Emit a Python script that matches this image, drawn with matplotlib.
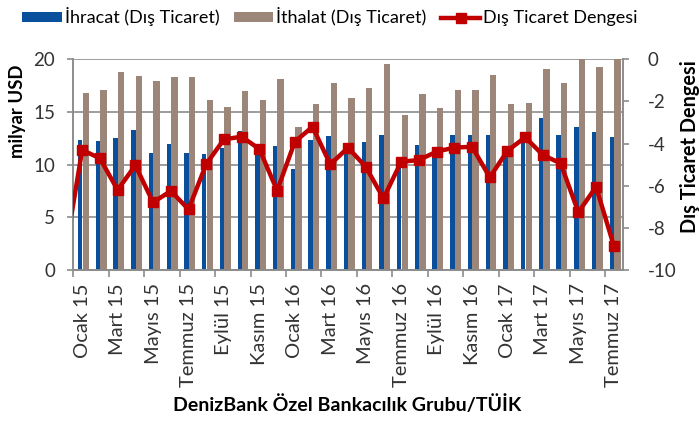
import numpy as np
import matplotlib.pyplot as plt
from matplotlib.ticker import FixedLocator

plt.rcParams['font.family'] = ['Lato', 'DejaVu Sans']
plt.rcParams['axes.unicode_minus'] = False

# aylar: Ocak 15 - Temmuz 17
aylar = ['Ocak', 'Şubat', 'Mart', 'Nisan', 'Mayıs', 'Haziran',
         'Temmuz', 'Ağustos', 'Eylül', 'Ekim', 'Kasım', 'Aralık']
donem = [f'{aylar[i % 12]} {15 + i // 12}' for i in range(31)]

ihracat = [12.35, 12.25, 12.55, 13.3, 11.1, 12.0, 11.15, 11.0, 11.55, 13.2,
           11.8, 11.8, 9.55, 12.35, 12.75, 11.95, 12.15, 12.8, 9.9, 11.85,
           11.05, 12.8, 12.8, 12.85, 11.3, 12.2, 14.45, 12.8, 13.6, 13.1, 12.6]
ithalat = [16.8, 17.05, 18.8, 18.45, 17.95, 18.35, 18.3, 16.1, 15.5, 16.95,
           16.1, 18.15, 13.6, 15.75, 17.8, 16.3, 17.25, 19.6, 14.75, 16.7,
           15.4, 17.05, 17.05, 18.55, 15.75, 15.9, 19.1, 17.8, 20.9, 19.3, 21.5]
# Aralık 14 değeri grafiğin solunda kesik görünüyor
denge_onceki = -9.4
denge = [-4.30, -4.70, -6.20, -5.03, -6.79, -6.25, -7.12, -4.97, -3.80, -3.67,
         -4.26, -6.23, -3.91, -3.20, -4.99, -4.19, -5.10, -6.60, -4.86, -4.78,
         -4.38, -4.19, -4.15, -5.60, -4.34, -3.70, -4.54, -4.94, -7.26, -6.05, -8.85]

mavi = '#0A4F9C'
kahve = '#9C867A'
kirmizi = '#C00000'
gri = '#8C8C8C'
yazi = '#333333'

fig = plt.figure(figsize=(6.99, 4.21), dpi=100)
ax = fig.add_axes([0.1049, 0.3587, 0.7859, 0.5003])
ax2 = ax.twinx()

x = np.arange(len(donem))
ax.bar(x - 0.11, ihracat, width=0.25, color=mavi, zorder=2, label='İhracat (Dış Ticaret)')
ax.bar(x + 0.2, ithalat, width=0.36, color=kahve, zorder=2, label='İthalat (Dış Ticaret)')

xl = np.concatenate([[-1], x])
yl = [denge_onceki] + denge
ax2.plot(xl, yl, color=kirmizi, lw=3.2, marker='s', ms=6.5, zorder=3,
         label='Dış Ticaret Dengesi')

ax.set_xlim(-0.5, len(donem) - 0.5)
ax.set_ylim(0, 20)
ax.set_yticks([0, 5, 10, 15, 20])
ax.yaxis.grid(True, color=gri, lw=1.2, zorder=0)
ax.set_axisbelow(True)
ax2.set_ylim(-10, 0)
ax2.set_yticks([0, -2, -4, -6, -8, -10])

ax.set_xticks(x[::2])
ax.set_xticklabels(donem[::2], rotation=90, fontsize=14.5, color=yazi)
ax.xaxis.set_minor_locator(FixedLocator(np.arange(-0.5, len(donem) - 1, 2)))
ax.tick_params(axis='x', which='major', length=0, pad=9.5)
ax.tick_params(axis='x', which='minor', length=5, color=gri, width=1.2)
ax.tick_params(axis='y', length=4, color=gri, width=1.2, labelsize=13.5,
               labelcolor=yazi, pad=9)
ax2.tick_params(axis='y', length=4, color=gri, width=1.2, labelsize=13.5,
                labelcolor=yazi, pad=14)

for a in (ax, ax2):
    for s in a.spines.values():
        s.set_color(gri)
        s.set_linewidth(1.2)
    a.spines['top'].set_visible(False)

# eksen başlıkları (referansta eksen ortasının üstünde duruyorlar)
fig.text(18 / 699, 1 - 111 / 421, 'milyar USD', rotation=90, ha='center',
         va='center', fontsize=13.3, fontweight='bold')
fig.text(690 / 699, 1 - 147 / 421, 'Dış Ticaret Dengesi', rotation=90, ha='center',
         va='center', fontsize=14.3, fontweight='bold')
fig.text(0.497, 0.038, 'DenizBank Özel Bankacılık Grubu/TÜİK', ha='center',
         va='center', fontsize=14, fontweight='bold')

h1, l1 = ax.get_legend_handles_labels()
h2, l2 = ax2.get_legend_handles_labels()
fig.legend(h1 + h2, l1 + l2, loc='center', bbox_to_anchor=(0.472, 0.96), ncol=3,
           frameon=False, fontsize=13, handlelength=2.2, handleheight=0.5,
           handletextpad=0.15, columnspacing=0.8)

fig.savefig('out.png', dpi=100)
